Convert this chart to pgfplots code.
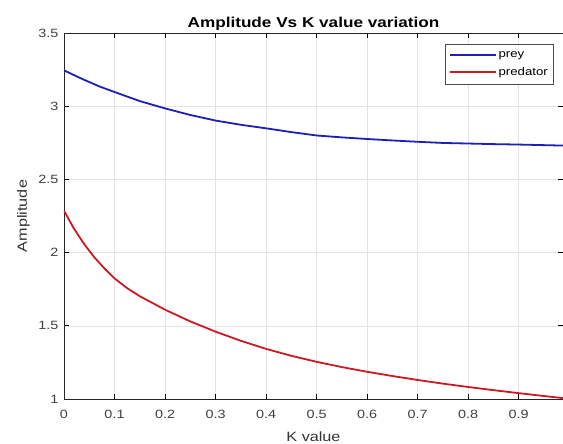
\documentclass[border=0pt]{standalone}
\usepackage{pgfplots}
\pgfplotsset{compat=1.18}
\usepackage{fontspec}
\setmainfont{Liberation Sans}[FakeStretch=1.2]
\definecolor{preyblue}{rgb}{0.12,0.12,0.72}
\definecolor{predred}{rgb}{0.80,0.10,0.14}
\begin{document}
\begin{tikzpicture}
\begin{axis}[
  name=ax,
  scale only axis,
  width=499pt, height=366pt,
  xmin=0, xmax=0.988, ymin=1, ymax=3.5,
  xtick={0,0.1,...,0.9},
  ytick={1,1.5,2,2.5,3,3.5},
  /pgf/number format/assume math mode=true,
  tick label style={font=\fontsize{12}{14}\selectfont, text=black!75},
  xticklabel style={/pgf/number format/fixed, yshift=-8pt},
  yticklabel style={xshift=-2pt},
  tick align=inside,
  major tick length=5pt,
  tick style={black, line width=0.6pt},
  grid=major,
  grid style={gray!22, line width=0.5pt},
  axis line style={black!85, line width=0.7pt},
  title={\bfseries Amplitude Vs K value variation},
  title style={font=\fontsize{14.3}{16}\selectfont, yshift=-7pt},
  xlabel={K value},
  ylabel={Amplitude},
  label style={font=\fontsize{13.5}{15}\selectfont, text=black!80},
  xlabel style={yshift=-6pt},
  ylabel style={yshift=2pt},
  legend style={at={(1,1)}, anchor=north east, xshift=-10pt, yshift=-11pt,
    font=\fontsize{11}{13}\selectfont, draw=black!70, inner xsep=3pt, inner ysep=5.5pt,
    row sep=4pt, cells={anchor=west}},
  legend cell align=left,
  legend image code/.code={\draw[#1, line width=2pt] (0pt,0pt) -- (46pt,0pt);},
]
\addplot[color=preyblue, line width=1.8pt, line join=round] coordinates {
(0,3.245) (0.02,3.212) (0.04,3.18) (0.07,3.135) (0.1,3.097) (0.15,3.035) (0.2,2.985)
(0.25,2.94) (0.3,2.902) (0.35,2.873) (0.4,2.849) (0.45,2.823) (0.5,2.8)
(0.55,2.787) (0.6,2.776) (0.65,2.766) (0.7,2.757) (0.75,2.749) (0.8,2.745)
(0.85,2.741) (0.9,2.738) (0.95,2.734) (0.988,2.731)
};
\addlegendentry{prey}
\addplot[color=predred, line width=1.8pt, line join=round] coordinates {
(0,2.286) (0.02,2.162) (0.04,2.058) (0.06,1.968) (0.08,1.892) (0.1,1.824)
(0.125,1.757) (0.15,1.702) (0.2,1.61) (0.25,1.53) (0.3,1.46) (0.35,1.3975)
(0.4,1.3425) (0.45,1.295) (0.5,1.254) (0.55,1.218) (0.6,1.186) (0.65,1.157)
(0.7,1.13) (0.75,1.105) (0.8,1.082) (0.85,1.0605) (0.9,1.04) (0.95,1.0205)
(0.988,1.006)
};
\addlegendentry{predator}
\end{axis}
\pgfresetboundingbox
\path[use as bounding box] ([xshift=-64pt,yshift=-45pt]ax.south west) rectangle ([yshift=33pt]ax.north east);
\end{tikzpicture}
\end{document}
